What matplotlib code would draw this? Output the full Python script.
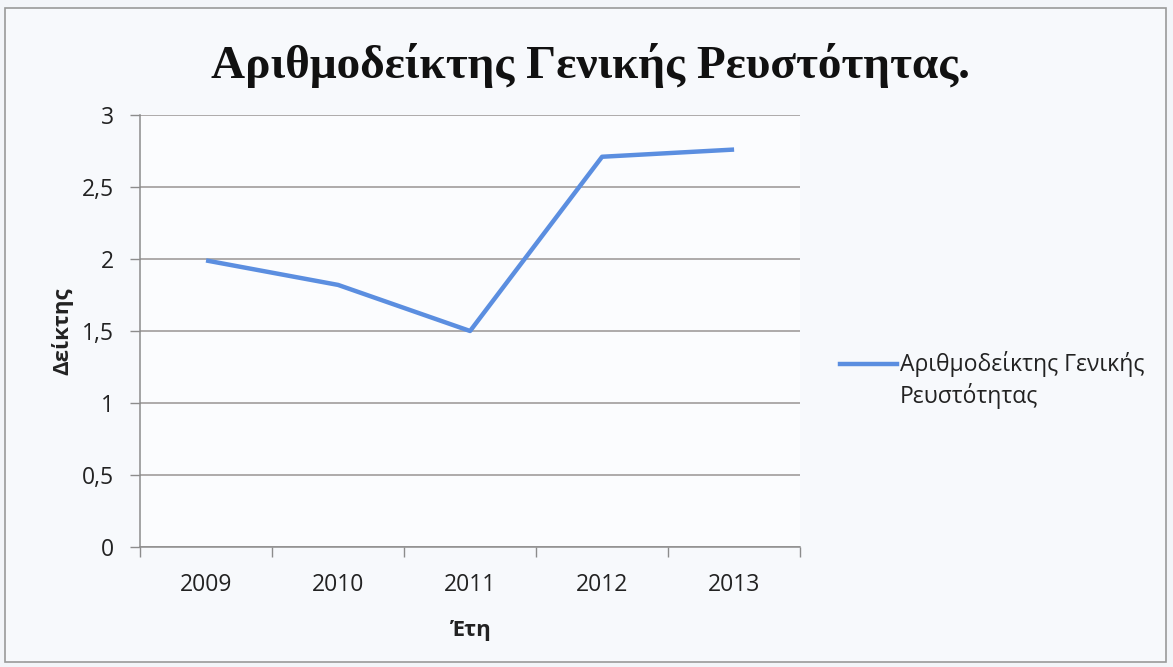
import matplotlib.pyplot as plt
from matplotlib.lines import Line2D

# Δεδομένα του διαγράμματος
years = ['2009', '2010', '2011', '2012', '2013']
liquidity = [1.99, 1.82, 1.50, 2.71, 2.76]
y_ticks = [0, 0.5, 1, 1.5, 2, 2.5, 3]
y_tick_labels = ['0', '0,5', '1', '1,5', '2', '2,5', '3']

title = 'Αριθμοδείκτης Γενικής Ρευστότητας.'
series_lines = ['Αριθμοδείκτης Γενικής', 'Ρευστότητας']

sans = ['Open Sans', 'DejaVu Sans']
line_color = '#5b8ee0'
text_color = '#222222'

fig = plt.figure(figsize=(11.73, 6.67), dpi=100, facecolor='#f3f5f9')

# πλαίσιο του γραφήματος, πίσω από τους άξονες
frame = plt.Rectangle((0.004, 0.008), 0.99, 0.98, transform=fig.transFigure,
                      facecolor='#f7f9fc', edgecolor='#9a9a9a', lw=1.2,
                      zorder=-1)
fig.patches.append(frame)

ax = fig.add_axes([0.1194, 0.1799, 0.5627, 0.6477])
ax.set_facecolor('#fbfcfe')

x = range(len(years))
ax.plot(x, liquidity, color=line_color, lw=3.2, solid_joinstyle='round',
        solid_capstyle='butt')

ax.set_xlim(-0.5, len(years) - 0.5)
ax.set_ylim(0, 3)
ax.set_yticks(y_ticks)
ax.set_yticklabels(y_tick_labels, family=sans, fontsize=16.5, color=text_color)
ax.set_xticks(x)
ax.set_xticklabels(years, family=sans, fontsize=16.5, color=text_color)
ax.tick_params(axis='x', length=0, pad=19)
ax.tick_params(axis='y', length=7, width=1, color='#8c8c8c', pad=12)

# μικρές γραμμές στα όρια των κατηγοριών
ax.set_xticks([i - 0.5 for i in range(len(years) + 1)], minor=True)
ax.tick_params(axis='x', which='minor', length=7, width=1, color='#8c8c8c')

ax.grid(axis='y', color='#a09c9c', lw=1.2)
ax.set_axisbelow(True)
for side in ['top', 'right']:
    ax.spines[side].set_visible(False)
for side in ['left', 'bottom']:
    ax.spines[side].set_color('#8c8c8c')
    ax.spines[side].set_linewidth(1.1)

ax.set_xlabel('Έτη', family=sans, fontsize=16, fontweight='bold',
              color=text_color, labelpad=16)
ax.set_ylabel('Δείκτης', family=sans, fontsize=16, fontweight='bold',
              color=text_color, labelpad=6)

fig.text(0.503, 0.902, title, ha='center', va='center',
         family=['Liberation Serif', 'DejaVu Serif'], fontsize=34,
         fontweight='bold', color='#111111')

# υπόμνημα: γραμμή σειράς και τίτλος σε δύο γραμμές
fig.add_artist(Line2D([0.716, 0.765], [0.4543, 0.4543], color=line_color,
                      lw=3.2, transform=fig.transFigure))
fig.text(0.767, 0.4543, series_lines[0], ha='left', va='center',
         family=sans, fontsize=16.5, color=text_color)
fig.text(0.767, 0.4063, series_lines[1], ha='left', va='center',
         family=sans, fontsize=16.5, color=text_color)

fig.savefig('out.png', dpi=100, facecolor=fig.get_facecolor())
